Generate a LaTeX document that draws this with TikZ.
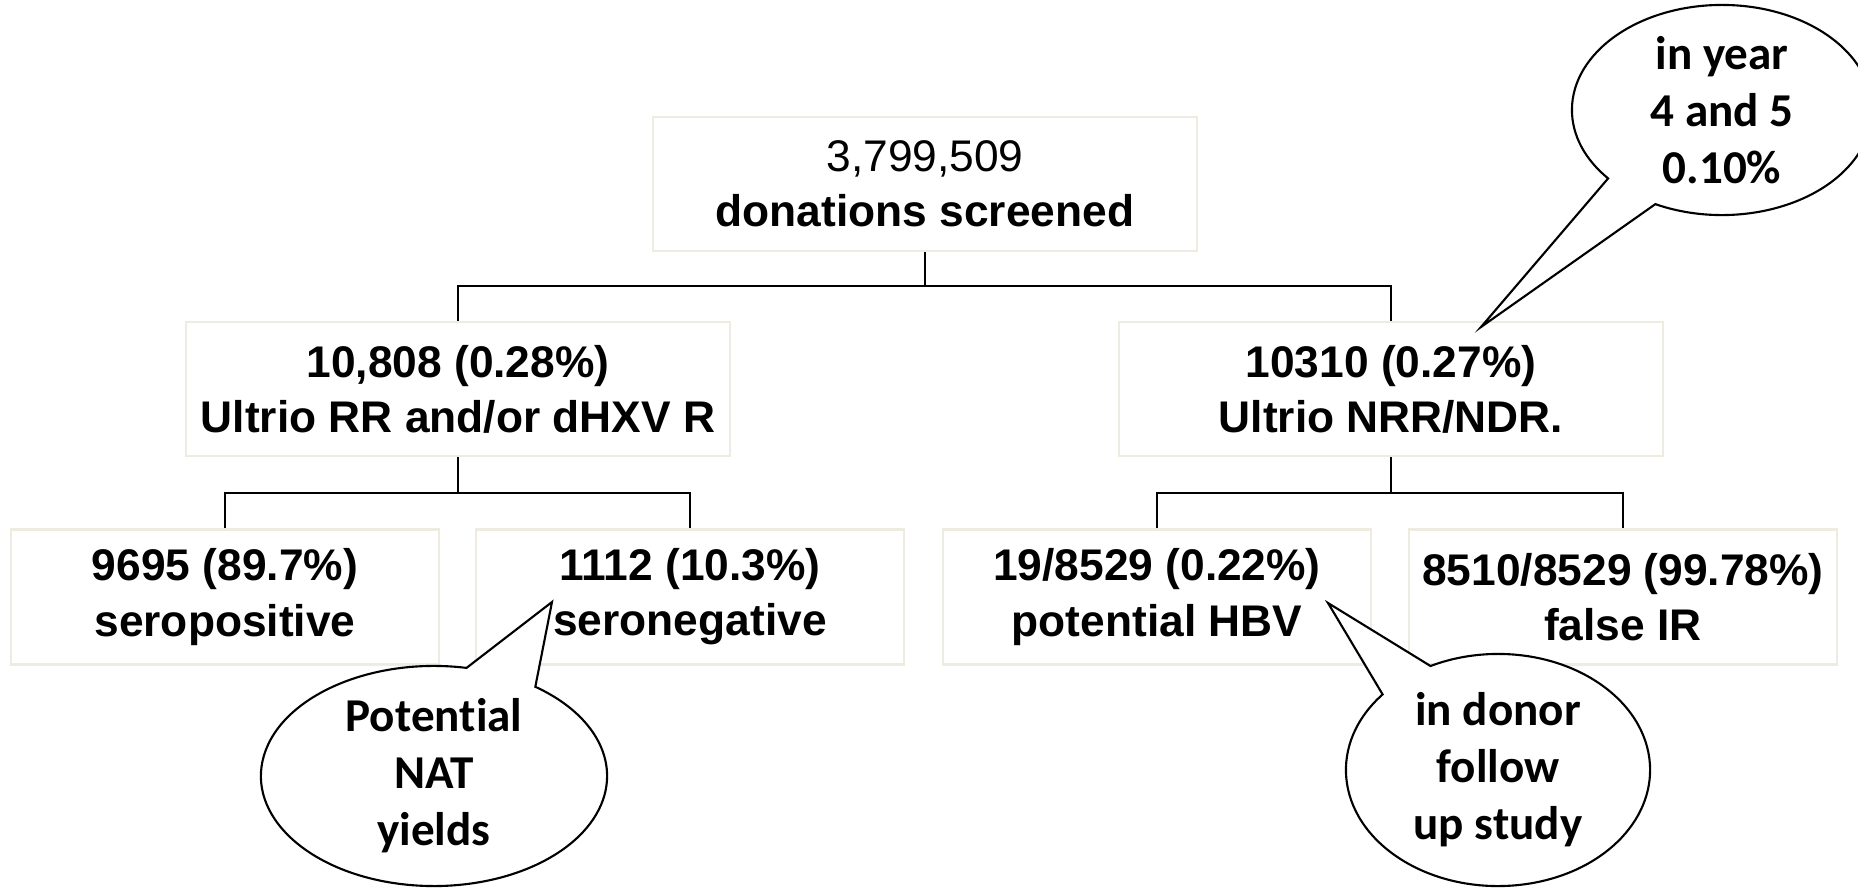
\documentclass[tikz,border=0pt]{standalone}
\usepackage{fontspec}
\setmainfont{Liberation Sans}
\newfontfamily\calibri[Ligatures=NoCommon]{Carlito}
\usetikzlibrary{shapes.callouts}
\definecolor{boxline}{HTML}{EEECE1}

\begin{document}
\begin{tikzpicture}[x=0.01cm, y=-0.01cm,
  box/.style={draw=boxline, line width=0.6pt, align=center, inner sep=0pt, minimum width=5.44cm, minimum height=1.34cm, font=\fontsize{12.6}{15.7}\selectfont\bfseries},
  small/.style={box, minimum width=4.28cm, minimum height=1.35cm},
  link/.style={black, line width=0.65pt},
  bubble/.style={ellipse callout, draw, fill=white, line width=0.6pt, align=center, inner sep=0pt, inner ysep=-3pt, callout pointer arc=25, font=\fontsize{13.4}{16.2}\selectfont\calibri\bfseries}]
\useasboundingbox (0,0) rectangle (1858,888);
% tree of boxes
\node[box] (scr) at (925,184) {{\mdseries 3,799,509}\\donations screened};
\node[box] (rr) at (458,389) {10,808 (0.28\%)\\Ultrio RR and/or dHXV R};
\node[box] (nrr) at (1391,389) {10310 (0.27\%)\\Ultrio NRR/NDR.};
\node[small] (pos) at (225,597) {9695 (89.7\%)\\seropositive};
\node[small] (neg) at (690,597) {1112 (10.3\%)\\seronegative};
\node[small] (hbv) at (1157,597) {19/8529 (0.22\%)\\potential HBV};
\node[small] (fir) at (1623,597) {8510/8529 (99.78\%)\\false IR};
\coordinate (j1) at (925,286);
\coordinate (j2) at (458,493);
\coordinate (j3) at (1391,493);
\foreach \a/\l/\r/\j in {scr/rr/nrr/j1, rr/pos/neg/j2, nrr/hbv/fir/j3} {
 \draw[link] (\a.south) -- (\j);
 \draw[link] (\l.north) |- (\j) -| (\r.north);
}
% callouts
\coordinate (natp) at (552,602);
\coordinate (donp) at (1328,603);
\coordinate (yrp) at (1481,327);
\node[bubble, minimum width=3.46cm, minimum height=2.2cm, callout absolute pointer={(natp)}] (nat) at (434,776) {Potential\\NAT\\yields};
\node[bubble, minimum width=3.04cm, minimum height=2.32cm, callout pointer arc=23, callout absolute pointer={(donp)}] (don) at (1498,770) {in donor\\follow\\up study};
\node[bubble, minimum width=3.0cm, minimum height=2.1cm, callout pointer arc=23, callout absolute pointer={(yrp)}] (yr) at (1722,110) {in year\\4 and 5\\0.10\%};
\end{tikzpicture}
\end{document}
